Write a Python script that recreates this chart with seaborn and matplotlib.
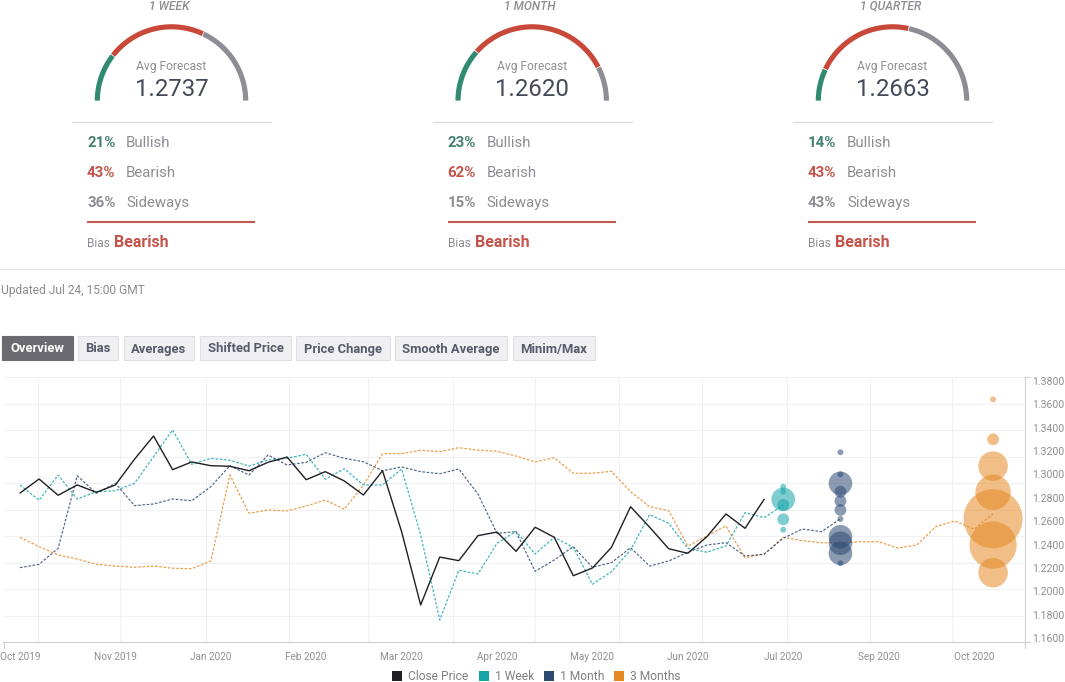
import matplotlib
matplotlib.use('Agg')
import matplotlib.pyplot as plt
from matplotlib.patches import Patch, Rectangle
import numpy as np
import pandas as pd
import seaborn as sns

# Forecast panels
horizons = ['1 WEEK', '1 MONTH', '1 QUARTER']
avg_forecast = ['1.2737', '1.2620', '1.2663']
bullish = [21, 23, 14]
bearish = [43, 62, 43]
sideways = [36, 15, 43]
bias = ['Bearish', 'Bearish', 'Bearish']
buttons = ['Overview', 'Bias', 'Averages', 'Shifted Price', 'Price Change', 'Smooth Average', 'Minim/Max']

# Weekly series
close_price = [1.2841, 1.2961, 1.2822, 1.2910, 1.2847, 1.2910, 1.3130, 1.3329, 1.3041, 1.3107,
               1.3075, 1.3070, 1.3032, 1.3104, 1.3149, 1.2955, 1.3024, 1.2944, 1.2824, 1.3032,
               1.2510, 1.1883, 1.2293, 1.2262, 1.2476, 1.2507, 1.2342, 1.2548, 1.2462, 1.2133,
               1.2199, 1.2376, 1.2724, 1.2548, 1.2364, 1.2325, 1.2467, 1.2662, 1.2539, 1.2787]
one_week = [1.2910, 1.2779, 1.2995, 1.2790, 1.2852, 1.2861, 1.2924, 1.3152, 1.3381, 1.3087,
            1.3138, 1.3121, 1.3072, 1.3124, 1.3138, 1.3173, 1.2959, 1.3049, 1.2910, 1.2910,
            1.3047, 1.2482, 1.1754, 1.2180, 1.2148, 1.2411, 1.2513, 1.2319, 1.2462, 1.2376,
            1.2060, 1.2168, 1.2353, 1.2656, 1.2582, 1.2368, 1.2334, 1.2388, 1.2673, 1.2630,
            1.2737]
one_month = [1.2202, 1.2231, 1.2368, 1.2989, 1.2839, 1.2924, 1.2733, 1.2747, 1.2790, 1.2775,
             1.2895, 1.3075, 1.2995, 1.3167, 1.3081, 1.3104, 1.3186, 1.3138, 1.3109, 1.3032,
             1.3064, 1.3024, 1.3006, 1.3047, 1.2833, 1.2496, 1.2510, 1.2171, 1.2268, 1.2382,
             1.2205, 1.2245, 1.2373, 1.2216, 1.2259, 1.2334, 1.2396, 1.2416, 1.2302, 1.2317,
             1.2453, 1.2533, 1.2510, 1.2620]
three_months = [1.2462, 1.2382, 1.2311, 1.2276, 1.2231, 1.2216, 1.2205, 1.2216, 1.2197, 1.2193,
                1.2259, 1.2995, 1.2668, 1.2696, 1.2687, 1.2730, 1.2781, 1.2702, 1.2910, 1.3178,
                1.3178, 1.3207, 1.3195, 1.3229, 1.3209, 1.3198, 1.3158, 1.3107, 1.3143, 1.3010,
                1.3010, 1.3027, 1.2852, 1.2724, 1.2690, 1.2388, 1.2473, 1.2559, 1.2287, 1.2319,
                1.2462, 1.2433, 1.2416, 1.2411, 1.2424, 1.2424, 1.2370, 1.2396, 1.2553, 1.2602,
                1.2531, 1.2663]

# Forecast bubbles: price level and how many forecasters sit there
week_levels = [1.2895, 1.2852, 1.2787, 1.2739, 1.2616, 1.2527]
week_counts = [1, 1, 4, 2, 2, 1]
month_levels = [1.3190, 1.3001, 1.2924, 1.2852, 1.2773, 1.2696, 1.2619, 1.2467, 1.2411, 1.2325, 1.2240]
month_counts = [1, 1, 4, 2, 2, 2, 1, 4, 4, 4, 1]
quarter_levels = [1.3643, 1.3301, 1.3072, 1.2847, 1.2621, 1.2396, 1.2159]
quarter_counts = [1, 2, 5, 6, 10, 8, 5]

x_ticks = [0, 5, 10, 15, 20, 25, 30, 35, 40, 45, 50]
x_labels = ['Oct 2019', 'Nov 2019', 'Jan 2020', 'Feb 2020', 'Mar 2020', 'Apr 2020',
            'May 2020', 'Jun 2020', 'Jul 2020', 'Sep 2020', 'Oct 2020']
y_ticks = [1.38, 1.36, 1.34, 1.32, 1.30, 1.28, 1.26, 1.24, 1.22, 1.20, 1.18, 1.16]

GREEN = '#2f8a70'
RED = '#c8483a'
GREY = '#8d8d95'
TXT_GREEN = '#44806f'
TXT_RED = '#c4544a'
colors = {'Close Price': '#1f1f24', '1 Week': '#16a5ab', '1 Month': '#2d4a73', '3 Months': '#e58a23'}

sns.set_theme(style='white')
plt.rcParams['font.family'] = ['Roboto', 'DejaVu Sans']

W, H = 1065, 682
fig = plt.figure(figsize=(W / 100, H / 100), dpi=100)

# background axes in pixel units for the dashboard bits
bg = fig.add_axes([0, 0, 1, 1])
bg.set_xlim(0, W)
bg.set_ylim(H, 0)
bg.axis('off')


def px(size):
    # font size from css pixels
    return size * 0.72


for n in range(3):
    off = [0, 360.7, 721][n]
    cx, cy, r = 171.5 + off, 101, 74.2
    # gauge
    start = 180.0
    for pct, col in zip([bullish[n], bearish[n], sideways[n]], [GREEN, RED, GREY]):
        end = start - pct * 1.8
        th = np.radians(np.linspace(start - 0.3, end + 0.3, 60))
        bg.plot(cx + r * np.cos(th), cy - r * np.sin(th), color=col, lw=3.7, solid_capstyle='butt')
        start = end
    bg.text(cx - 2, 10, horizons[n], ha='center', va='baseline', color=GREY, fontsize=px(12),
            style='italic', weight='medium')
    bg.text(cx, 70, 'Avg Forecast', ha='center', va='baseline', color=GREY, fontsize=px(12))
    bg.text(cx, 96, avg_forecast[n], ha='center', va='baseline', color='#434a58', fontsize=px(24))
    bg.plot([72 + off, 271 + off], [122, 122], color='#dcdcdc', lw=0.9)
    rows = [(bullish[n], 'Bullish', TXT_GREEN, 147), (bearish[n], 'Bearish', TXT_RED, 177),
            (sideways[n], 'Sideways', GREY, 207)]
    for val, name, col, y in rows:
        bg.text(87 + off, y, f'{val}%', ha='left', va='baseline', color=col, fontsize=px(15), weight='bold')
        bg.text(126 + off, y, name, ha='left', va='baseline', color=GREY, fontsize=px(15))
    bg.plot([87 + off, 255 + off], [221.7, 221.7], color='#c05a4e', lw=1.5, solid_capstyle='butt')
    bg.text(87 + off, 247, 'Bias', ha='left', va='baseline', color=GREY, fontsize=px(12))
    bg.text(114 + off, 247, bias[n], ha='left', va='baseline', color=TXT_RED, fontsize=px(16), weight='bold')

bg.plot([0, W], [269, 269], color='#e8e8e8', lw=0.9)
bg.text(1, 294, 'Updated Jul 24, 15:00 GMT', ha='left', va='baseline', color='#8c8c8c', fontsize=px(12))

# tab buttons
btn_edges = [(2, 73), (78, 118), (124, 194), (200, 291), (296, 390), (395, 507), (513, 595)]
for i, (label, (x0, x1)) in enumerate(zip(buttons, btn_edges)):
    active = i == 0
    bg.add_patch(Rectangle((x0, 336), x1 - x0, 24, facecolor='#6a6a70' if active else '#f0f0f3',
                           edgecolor='#6a6a70' if active else '#dfdfe4', lw=0.8))
    bg.text((x0 + x1) / 2, 352.5, label, ha='center', va='baseline', fontsize=px(13), weight='bold',
            color='white' if active else '#565b67')

# grid lines do not line up with the tick labels in the original
for y in np.arange(377, 620, 26.5):
    bg.plot([3, 1024], [y, y], color='#f1f1f3', lw=0.8, zorder=1)
for x in [38, 120, 206, 289, 368, 453, 535, 619, 702, 787, 870, 952]:
    bg.plot([x, x], [377, 642], color='#f1f1f3', lw=0.8, zorder=1)
axis_col = '#d2d2d6'
bg.plot([1024.5, 1024.5], [377, 648], color=axis_col, lw=0.9)
bg.plot([3, 1030], [642, 642], color=axis_col, lw=0.9)
bg.plot([3.5, 3.5], [642, 648], color=axis_col, lw=0.9)
bg.plot([1024, 1030], [377, 377], color=axis_col, lw=0.9)

# price chart
ax = fig.add_axes([3 / W, 1 - 642 / H, (1024 - 3) / W, (642 - 377) / H])
ax.patch.set_alpha(0)

series = {'Close Price': close_price, '1 Week': one_week, '1 Month': one_month, '3 Months': three_months}
lines = pd.concat([pd.DataFrame({'week': range(len(v)), 'price': v, 'series': k}) for k, v in series.items()])

sns.lineplot(data=lines[lines['series'] == 'Close Price'], x='week', y='price', color=colors['Close Price'],
             lw=1.0, estimator=None, ax=ax, legend=False, zorder=4)
for name in ['3 Months', '1 Month', '1 Week']:
    sns.lineplot(data=lines[lines['series'] == name], x='week', y='price', color=colors[name], lw=0.85,
                 linestyle=(0, (2.2, 1.4)), alpha=0.85, estimator=None, ax=ax, legend=False, zorder=3)

bubbles = pd.concat([
    pd.DataFrame({'week': 40, 'price': week_levels, 'count': week_counts, 'series': '1 Week'}),
    pd.DataFrame({'week': 43, 'price': month_levels, 'count': month_counts, 'series': '1 Month'}),
    pd.DataFrame({'week': 51, 'price': quarter_levels, 'count': quarter_counts, 'series': '3 Months'}),
])
size_map = {c: (2 * 2.95 * c * 0.72) ** 2 for c in bubbles['count'].unique()}
sns.scatterplot(data=bubbles, x='week', y='price', hue='series', palette=colors, size='count', sizes=size_map,
                alpha=0.55, linewidth=0, ax=ax, legend=False, zorder=5)

ax.set_xlim((3 - 20) / 19.08, (1024 - 20) / 19.08)
ax.set_ylim(1.38 - (642 - 381) * 0.22 / 257, 1.38 + 4 * 0.22 / 257)
ax.set_xticks(x_ticks)
ax.set_xticklabels(x_labels)
ax.set_yticks(y_ticks)
ax.set_yticklabels([f'{t:.4f}' for t in y_ticks])
ax.yaxis.tick_right()
ax.tick_params(axis='x', length=0, pad=7.5, labelsize=px(10), labelcolor='#8f8f8f')
ax.tick_params(axis='y', length=0, pad=6, labelsize=px(10.5), labelcolor='#8f8f8f')
ax.set_xlabel('')
ax.set_ylabel('')
for s in ax.spines.values():
    s.set_visible(False)

handles = [Patch(facecolor=c, edgecolor='none', label=k) for k, c in colors.items()]
fig.legend(handles=handles, loc='center', bbox_to_anchor=(536.5 / W, 1 - 676.5 / H), ncol=4, frameon=False,
           fontsize=px(12), labelcolor='#7f7f7f', handlelength=0.83, handleheight=0.83, handletextpad=0.5,
           columnspacing=0.83, borderpad=0, borderaxespad=0)

fig.savefig('out.png', dpi=100)
